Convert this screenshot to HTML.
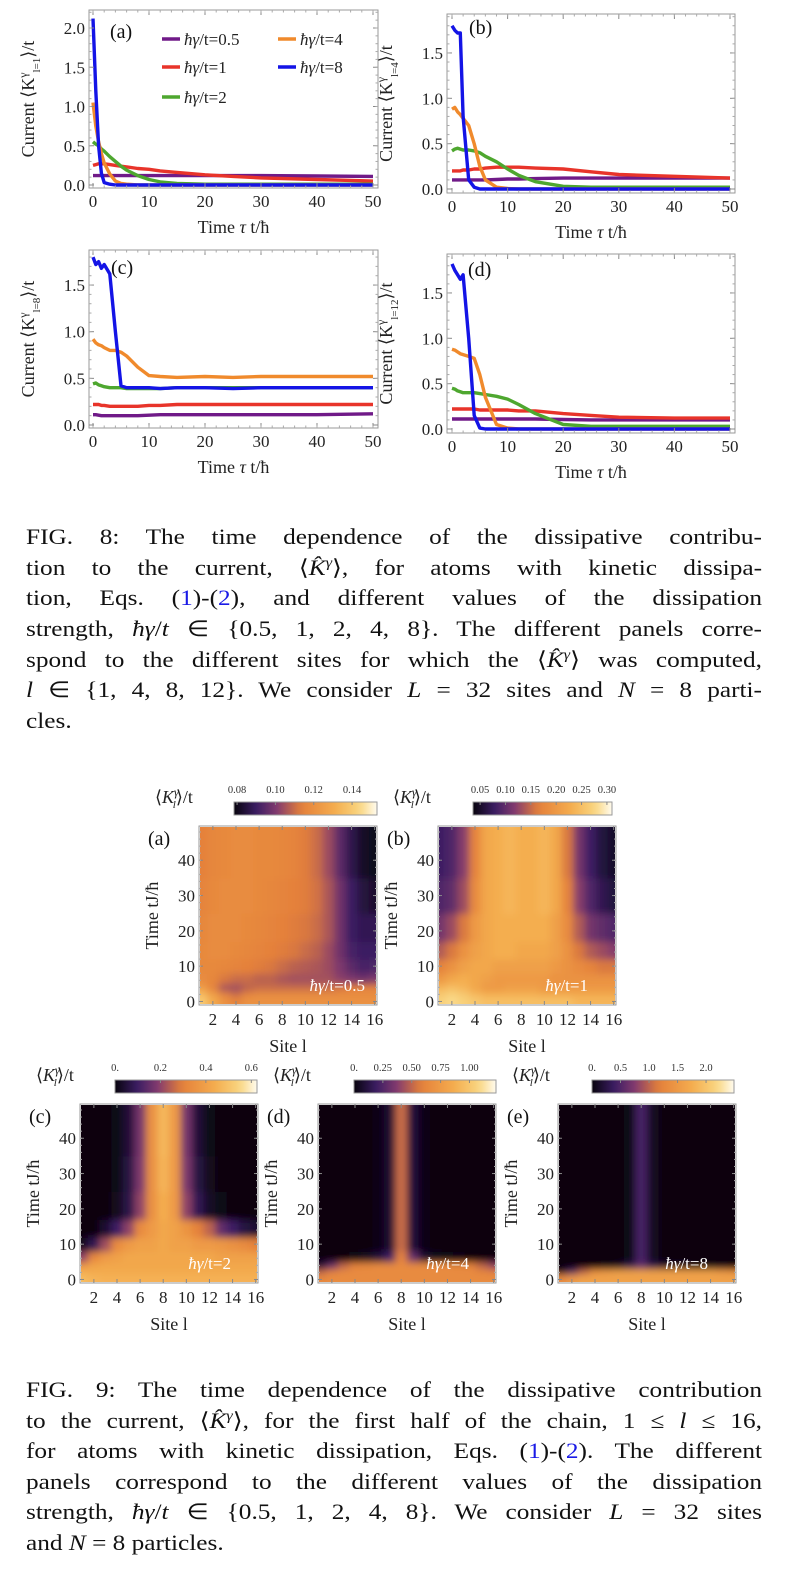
<!DOCTYPE html>
<html><head><meta charset="utf-8">
<style>
html,body{margin:0;padding:0;background:#fff;}
body{width:790px;height:1596px;position:relative;overflow:hidden;font-family:"Liberation Serif",serif;}
.cap{position:absolute;left:26px;width:640px;font-size:22px;line-height:26px;color:#111;text-align:justify;text-align-last:justify;white-space:nowrap;transform:scaleX(1.15);transform-origin:0 0;}
.cap.last{text-align-last:left;}
.cap i{font-style:italic;}
.cap sup{font-size:14px;line-height:0;vertical-align:baseline;position:relative;top:-0.6em;}
.lnk{color:#1a1ae6;}
svg text{font-family:"Liberation Serif",serif;}
</style></head>
<body>
<svg id="fig" width="790" height="1596" style="position:absolute;left:0;top:0">
<defs>
<filter id="blur" x="0" y="0" width="1" height="1" filterUnits="objectBoundingBox"><feGaussianBlur stdDeviation="3.8" edgeMode="duplicate"/></filter>
</defs>
</svg>

<div class="cap" style="top:524px">FIG. 8: The time dependence of the dissipative contribu-</div>
<div class="cap" style="top:555px">tion to the current, ⟨<i>K̂</i><sup><i>γ</i></sup>⟩, for atoms with kinetic dissipa-</div>
<div class="cap" style="top:585px">tion, Eqs. (<span class="lnk">1</span>)-(<span class="lnk">2</span>), and different values of the dissipation</div>
<div class="cap" style="top:616px">strength, <i>ħγ</i>/<i>t</i> ∈ {0.5, 1, 2, 4, 8}. The different panels corre-</div>
<div class="cap" style="top:647px">spond to the different sites for which the ⟨<i>K̂</i><sup><i>γ</i></sup>⟩ was computed,</div>
<div class="cap" style="top:677px"><i>l</i> ∈ {1, 4, 8, 12}. We consider <i>L</i> = 32 sites and <i>N</i> = 8 parti-</div>
<div class="cap last" style="top:708px">cles.</div>

<div class="cap" style="top:1377px">FIG. 9: The time dependence of the dissipative contribution</div>
<div class="cap" style="top:1408px">to the current, ⟨<i>K̂</i><sup><i>γ</i></sup>⟩, for the first half of the chain, 1 ≤ <i>l</i> ≤ 16,</div>
<div class="cap" style="top:1438px">for atoms with kinetic dissipation, Eqs. (<span class="lnk">1</span>)-(<span class="lnk">2</span>). The different</div>
<div class="cap" style="top:1469px">panels correspond to the different values of the dissipation</div>
<div class="cap" style="top:1499px">strength, <i>ħγ</i>/<i>t</i> ∈ {0.5, 1, 2, 4, 8}. We consider <i>L</i> = 32 sites</div>
<div class="cap last" style="top:1530px">and <i>N</i> = 8 particles.</div>

<script>
// ---------- FIG 8 data ----------
const times = [0,0.5,1,1.5,2,3,4,5,6,8,10,12,15,20,25,30,40,50];
const xTicks = [0,10,20,30,40,50];
const gammaLabels = ["ħγ/t=0.5","ħγ/t=1","ħγ/t=2","ħγ/t=4","ħγ/t=8"];
// panel (a) l=1
const a_g05 = [0.12,0.12,0.12,0.12,0.12,0.12,0.12,0.12,0.12,0.12,0.12,0.12,0.12,0.12,0.12,0.12,0.115,0.11];
const a_g1  = [0.25,0.26,0.27,0.27,0.27,0.26,0.25,0.24,0.23,0.21,0.20,0.18,0.16,0.13,0.11,0.09,0.07,0.05];
const a_g2  = [0.55,0.52,0.50,0.46,0.43,0.36,0.30,0.24,0.19,0.12,0.07,0.04,0.02,0.01,0.01,0.01,0.01,0.01];
const a_g4  = [1.05,0.75,0.55,0.40,0.28,0.14,0.05,0.02,0.01,0,0,0,0,0,0,0,0,0];
const a_g8  = [2.12,1.20,0.50,0.15,0.03,0.01,0,0,0,0,0,0,0,0,0,0,0,0];
// panel (b) l=4
const b_g05 = [0.10,0.10,0.10,0.10,0.10,0.10,0.10,0.10,0.10,0.105,0.11,0.11,0.115,0.12,0.12,0.12,0.12,0.12];
const b_g1  = [0.20,0.20,0.20,0.20,0.21,0.21,0.22,0.22,0.23,0.24,0.24,0.24,0.23,0.22,0.19,0.16,0.14,0.12];
const b_g2  = [0.42,0.44,0.45,0.44,0.43,0.43,0.42,0.40,0.36,0.30,0.22,0.15,0.08,0.03,0.02,0.02,0.02,0.02];
const b_g4  = [0.88,0.90,0.85,0.82,0.78,0.70,0.50,0.25,0.10,0.02,0.005,0,0,0,0,0,0,0];
const b_g8  = [1.80,1.75,1.72,1.72,0.80,0.10,0.02,0,0,0,0,0,0,0,0,0,0,0];
// panel (c) l=8
const c_g05 = [0.11,0.11,0.105,0.10,0.10,0.10,0.10,0.10,0.10,0.10,0.105,0.11,0.11,0.11,0.11,0.11,0.11,0.12];
const c_g1  = [0.22,0.22,0.22,0.21,0.21,0.20,0.20,0.20,0.20,0.20,0.21,0.21,0.22,0.22,0.22,0.22,0.22,0.22];
const c_g2  = [0.44,0.45,0.43,0.42,0.41,0.40,0.40,0.40,0.39,0.39,0.39,0.39,0.40,0.40,0.40,0.40,0.40,0.40];
const c_g4  = [0.92,0.88,0.86,0.85,0.83,0.80,0.80,0.78,0.74,0.62,0.53,0.52,0.51,0.52,0.51,0.52,0.52,0.52];
const c_g8  = [1.80,1.72,1.75,1.68,1.72,1.62,1.00,0.42,0.40,0.40,0.40,0.39,0.40,0.40,0.39,0.40,0.40,0.40];
// panel (d) l=12
const d_g05 = [0.11,0.11,0.11,0.11,0.11,0.11,0.11,0.11,0.11,0.11,0.11,0.11,0.11,0.105,0.10,0.10,0.10,0.10];
const d_g1  = [0.22,0.22,0.22,0.22,0.22,0.22,0.22,0.21,0.21,0.21,0.21,0.20,0.20,0.17,0.15,0.13,0.12,0.12];
const d_g2  = [0.45,0.44,0.42,0.41,0.40,0.40,0.40,0.39,0.38,0.36,0.33,0.27,0.17,0.05,0.03,0.03,0.03,0.03];
const d_g4  = [0.88,0.87,0.85,0.83,0.82,0.80,0.78,0.60,0.35,0.05,0.01,0,0,0,0,0,0,0];
const d_g8  = [1.82,1.75,1.70,1.65,1.70,1.00,0.15,0.01,0,0,0,0,0,0,0,0,0,0];

// ---------- FIG 9 data ----------
const sites = [1,2,3,4,5,6,7,8,9,10,11,12,13,14,15,16];
const siteTicks = [2,4,6,8,10,12,14,16];
const timeTicks = [0,10,20,30,40];
const timeEdges = [0,1.5,3,5,8,12,17,25,35,50];
const hmA = [
 [0.14,0.13,0.12,0.115,0.12,0.12,0.12,0.12,0.12,0.12,0.12,0.12,0.12,0.12,0.12,0.12],
 [0.135,0.125,0.115,0.11,0.115,0.118,0.118,0.118,0.118,0.118,0.118,0.118,0.118,0.118,0.118,0.118],
 [0.125,0.115,0.105,0.104,0.108,0.11,0.11,0.11,0.11,0.11,0.11,0.11,0.112,0.114,0.115,0.115],
 [0.118,0.116,0.112,0.11,0.11,0.108,0.108,0.106,0.105,0.105,0.105,0.105,0.102,0.10,0.098,0.10],
 [0.117,0.117,0.116,0.115,0.114,0.113,0.112,0.11,0.108,0.107,0.106,0.104,0.10,0.095,0.092,0.093],
 [0.117,0.118,0.118,0.117,0.116,0.115,0.114,0.113,0.112,0.11,0.108,0.104,0.098,0.092,0.09,0.09],
 [0.116,0.118,0.118,0.118,0.117,0.116,0.115,0.114,0.113,0.112,0.11,0.106,0.098,0.09,0.088,0.088],
 [0.115,0.117,0.118,0.118,0.118,0.117,0.116,0.115,0.114,0.113,0.111,0.106,0.098,0.09,0.085,0.083],
 [0.114,0.116,0.117,0.118,0.118,0.117,0.117,0.116,0.115,0.113,0.11,0.104,0.095,0.087,0.082,0.08]];
const hmB = [
 [0.27,0.28,0.27,0.26,0.25,0.25,0.25,0.25,0.25,0.25,0.25,0.25,0.24,0.24,0.24,0.24],
 [0.26,0.27,0.26,0.24,0.23,0.23,0.23,0.23,0.23,0.22,0.22,0.22,0.22,0.22,0.22,0.22],
 [0.24,0.25,0.24,0.22,0.2,0.2,0.21,0.21,0.21,0.2,0.2,0.2,0.2,0.2,0.2,0.2],
 [0.2,0.22,0.23,0.22,0.21,0.2,0.2,0.2,0.2,0.2,0.19,0.19,0.19,0.19,0.19,0.19],
 [0.17,0.19,0.21,0.22,0.22,0.21,0.21,0.21,0.21,0.21,0.2,0.19,0.18,0.17,0.16,0.16],
 [0.14,0.16,0.19,0.21,0.22,0.23,0.23,0.22,0.22,0.22,0.21,0.19,0.16,0.14,0.13,0.12],
 [0.11,0.13,0.16,0.2,0.22,0.23,0.23,0.23,0.23,0.23,0.21,0.18,0.14,0.11,0.1,0.09],
 [0.09,0.1,0.13,0.18,0.22,0.23,0.24,0.23,0.23,0.24,0.22,0.17,0.12,0.09,0.07,0.06],
 [0.08,0.09,0.12,0.17,0.22,0.23,0.24,0.23,0.23,0.24,0.22,0.16,0.11,0.08,0.06,0.05]];
const hmC = [
 [0.48,0.46,0.45,0.45,0.45,0.45,0.45,0.45,0.45,0.45,0.45,0.45,0.45,0.45,0.45,0.45],
 [0.44,0.43,0.43,0.43,0.43,0.43,0.43,0.43,0.43,0.43,0.43,0.43,0.43,0.43,0.43,0.43],
 [0.38,0.41,0.42,0.42,0.42,0.42,0.42,0.42,0.42,0.42,0.42,0.42,0.42,0.42,0.42,0.42],
 [0.2,0.32,0.38,0.4,0.42,0.42,0.42,0.42,0.42,0.42,0.42,0.42,0.4,0.4,0.4,0.4],
 [0.02,0.08,0.22,0.33,0.38,0.4,0.4,0.42,0.4,0.4,0.38,0.38,0.37,0.35,0.33,0.3],
 [0,0,0.04,0.1,0.2,0.33,0.38,0.42,0.4,0.36,0.3,0.25,0.15,0.1,0.06,0.04],
 [0,0,0,0.02,0.07,0.2,0.35,0.44,0.38,0.2,0.08,0.03,0.01,0,0,0],
 [0,0,0,0.01,0.06,0.18,0.35,0.46,0.38,0.18,0.06,0.02,0,0,0,0],
 [0,0,0,0.01,0.05,0.17,0.35,0.47,0.38,0.17,0.05,0.01,0,0,0,0]];
const hmD = [
 [0.62,0.65,0.65,0.65,0.65,0.65,0.65,0.65,0.65,0.65,0.65,0.65,0.65,0.65,0.65,0.65],
 [0.5,0.6,0.65,0.65,0.65,0.65,0.65,0.65,0.65,0.65,0.65,0.65,0.65,0.65,0.62,0.6],
 [0.1,0.3,0.5,0.6,0.62,0.65,0.65,0.65,0.65,0.65,0.65,0.65,0.62,0.6,0.5,0.4],
 [0,0,0,0.02,0.05,0.1,0.2,0.6,0.3,0.08,0.03,0.02,0.01,0,0,0],
 [0,0,0,0,0,0.01,0.08,0.52,0.1,0.01,0,0,0,0,0,0],
 [0,0,0,0,0,0.01,0.08,0.52,0.1,0.01,0,0,0,0,0,0],
 [0,0,0,0,0,0.01,0.08,0.52,0.1,0.01,0,0,0,0,0,0],
 [0,0,0,0,0,0.01,0.08,0.52,0.1,0.01,0,0,0,0,0,0],
 [0,0,0,0,0,0.01,0.08,0.52,0.1,0.01,0,0,0,0,0,0]];
const hmE = [
 [1.3,1.5,1.6,1.6,1.6,1.6,1.6,1.6,1.6,1.6,1.6,1.6,1.6,1.6,1.6,1.6],
 [0.1,0.5,1.0,1.4,1.5,1.6,1.6,1.6,1.6,1.6,1.6,1.6,1.6,1.6,1.5,1.4],
 [0,0,0,0,0.05,0.1,0.3,0.6,0.3,0.15,0.1,0.1,0.05,0.05,0.02,0],
 [0,0,0,0,0,0,0.05,0.45,0.1,0,0,0,0,0,0,0],
 [0,0,0,0,0,0,0.05,0.45,0.1,0,0,0,0,0,0,0],
 [0,0,0,0,0,0,0.05,0.45,0.1,0,0,0,0,0,0,0],
 [0,0,0,0,0,0,0.05,0.45,0.1,0,0,0,0,0,0,0],
 [0,0,0,0,0,0,0.05,0.45,0.1,0,0,0,0,0,0,0],
 [0,0,0,0,0,0,0.05,0.45,0.1,0,0,0,0,0,0,0]];
const cbTicksA = [0.08,0.10,0.12,0.14];
const cbTicksB = [0.05,0.10,0.15,0.20,0.25,0.30];
const cbTicksC = [0,0.2,0.4,0.6];
const cbTicksD = [0,0.25,0.50,0.75,1.00];
const cbTicksE = [0,0.5,1.0,1.5,2.0];

const NS = "http://www.w3.org/2000/svg";
const svg = document.getElementById("fig");
function mk(tag, attrs, parent){
  const e = document.createElementNS(NS, tag);
  for (const k in attrs) e.setAttribute(k, attrs[k]);
  (parent||svg).appendChild(e);
  return e;
}
const seriesColors = ["#701a88","#e8342a","#4ea72f","#f08a2c","#1414e6"];

function yTitle(g, x, y, main, sub, after){
  const t = mk("text", {x:x, y:y, "font-size":18, "text-anchor":"middle", transform:`rotate(-90 ${x} ${y})`, fill:"#222"}, g);
  
  
  t.appendChild(document.createTextNode(main));
  const s1 = mk("tspan", {"baseline-shift":"super","font-size":12}, t); s1.textContent="γ";
  const s2 = mk("tspan", {"baseline-shift":"sub","font-size":11}, t); s2.textContent=sub;
  const s3 = mk("tspan", {}, t); s3.textContent=after;
}

function lineChart(cfg, seriesList, yTickVals){
  const g = mk("g", {});
  
  
  const X = v => cfg.x0 + (cfg.x50 - cfg.x0) * v / 50;
  const Y = v => cfg.y0 - cfg.ppu * v;
  const clipId = cfg.name + "-clip";
  const cp = mk("clipPath", {id:clipId}, g);
  mk("rect", {x:cfg.l, y:cfg.t, width:cfg.r-cfg.l, height:cfg.b-cfg.t}, cp);
  seriesList.forEach((vals, si) => {
    const pts = times.map((tv, i) => X(tv).toFixed(1) + "," + Y(vals[i]).toFixed(1)).join(" ");
    const pl = mk("polyline", {points:pts, fill:"none", stroke:seriesColors[si], "stroke-width":3.4, "stroke-linejoin":"round", "clip-path":`url(#${clipId})`}, g);
    
    
  });
  const fr = mk("rect", {x:cfg.l, y:cfg.t, width:cfg.r-cfg.l, height:cfg.b-cfg.t, fill:"none", stroke:"#999", "stroke-width":1}, g);
  
  
  xTicks.forEach(v => {
    mk("line", {x1:X(v), x2:X(v), y1:cfg.b, y2:cfg.b-5, stroke:"#888"}, g);
    mk("line", {x1:X(v), x2:X(v), y1:cfg.t, y2:cfg.t+5, stroke:"#888"}, g);
    const tl = mk("text", {x:X(v), y:cfg.b+19, "font-size":17, "text-anchor":"middle", fill:"#222"}, g);
    
    
    tl.textContent = v;
  });
  for (let v = 0; v <= 50; v += 2) {
    mk("line", {x1:X(v), x2:X(v), y1:cfg.b, y2:cfg.b-2.5, stroke:"#aaa"}, g);
    mk("line", {x1:X(v), x2:X(v), y1:cfg.t, y2:cfg.t+2.5, stroke:"#aaa"}, g);
  }
  yTickVals.forEach(v => {
    mk("line", {x1:cfg.l, x2:cfg.l+5, y1:Y(v), y2:Y(v), stroke:"#888"}, g);
    mk("line", {x1:cfg.r, x2:cfg.r-5, y1:Y(v), y2:Y(v), stroke:"#888"}, g);
    const tl = mk("text", {x:cfg.l-4, y:Y(v)+6, "font-size":17, "text-anchor":"end", fill:"#222"}, g);
    
    
    tl.textContent = v.toFixed(1);
  });
  for (let v = 0.1; v < (cfg.y0-cfg.t)/cfg.ppu; v += 0.1) {
    mk("line", {x1:cfg.l, x2:cfg.l+2.5, y1:Y(v), y2:Y(v), stroke:"#aaa"}, g);
    mk("line", {x1:cfg.r, x2:cfg.r-2.5, y1:Y(v), y2:Y(v), stroke:"#aaa"}, g);
  }
  const xt = mk("text", {x:(cfg.l+cfg.r)/2, y:cfg.b+45, "font-size":18, "text-anchor":"middle", fill:"#222"}, g);
  
  
  xt.innerHTML = 'Time <tspan font-style="italic">τ</tspan> t/ħ';
  yTitle(g, cfg.l-55, (cfg.t+cfg.b)/2, "Current ⟨K", cfg.sub, "⟩/t");
  const pl = mk("text", {x:cfg.lx, y:cfg.ly, "font-size":20, fill:"#111"}, g);
  
  
  pl.textContent = cfg.label;
  return g;
}

lineChart({name:"chart-a-site-1", l:89, r:378, t:10, b:188, x0:93, x50:373, y0:185, ppu:78.5, sub:"l=1", label:"(a)", lx:110, ly:38},
  [a_g05,a_g1,a_g2,a_g4,a_g8], [0,0.5,1,1.5,2]);
lineChart({name:"chart-b-site-4", l:447, r:735, t:14, b:193, x0:452, x50:730, y0:189, ppu:90.7, sub:"l=4", label:"(b)", lx:469, ly:34},
  [b_g05,b_g1,b_g2,b_g4,b_g8], [0,0.5,1,1.5]);
lineChart({name:"chart-c-site-8", l:89, r:378, t:250, b:428, x0:93, x50:373, y0:425, ppu:93.3, sub:"l=8", label:"(c)", lx:111, ly:274},
  [c_g05,c_g1,c_g2,c_g4,c_g8], [0,0.5,1,1.5]);
lineChart({name:"chart-d-site-12", l:447, r:735, t:254, b:433, x0:452, x50:730, y0:429, ppu:90.7, sub:"l=12", label:"(d)", lx:468, ly:276},
  [d_g05,d_g1,d_g2,d_g4,d_g8], [0,0.5,1,1.5]);

const legPos = [[162,39],[162,67],[162,97],[278,39],[278,67]];
const lg = mk("g", {});


gammaLabels.forEach((lab, i) => {
  const [lx, ly] = legPos[i];
  const eg = mk("g", {}, lg);
  
  
  mk("line", {x1:lx, x2:lx+18, y1:ly, y2:ly, stroke:seriesColors[i], "stroke-width":3.5}, eg);
  const t = mk("text", {x:lx+22, y:ly+6, "font-size":17, fill:"#222"}, eg);
  t.innerHTML = '<tspan font-style="italic">ħγ</tspan>' + lab.slice(2);
});

// ---------- heatmaps ----------
const cmapStops = [[0,[8,4,14]],[0.16,[60,30,100]],[0.3,[130,58,110]],[0.47,[228,128,58]],[0.7,[244,172,78]],[0.88,[249,214,128]],[1,[255,251,239]]];
function cmap(f){
  f = Math.max(0, Math.min(1, f));
  for (let i = 1; i < cmapStops.length; i++) {
    if (f <= cmapStops[i][0]) {
      const [a, ca] = cmapStops[i-1], [b, cb] = cmapStops[i];
      const u = (f - a) / (b - a);
      return "rgb(" + ca.map((c, k) => Math.round(c + (cb[k]-c)*u)).join(",") + ")";
    }
  }
  return "rgb(255,251,239)";
}
let gradCount = 0;
function heatmap(cfg, grid, cbTicks){
  const g = mk("g", {});
  
  
  const smin = 0.8, smax = 16.2, tmin = -1, tmax = 49.7;
  const X = s => cfg.l + (s - smin) / (smax - smin) * (cfg.r - cfg.l);
  const Y = t => cfg.b - (t - tmin) / (tmax - tmin) * (cfg.b - cfg.t);
  const F = v => (v - cfg.vmin) / (cfg.vmax - cfg.vmin);
  const clipId = cfg.name + "-clip";
  const cp = mk("clipPath", {id:clipId}, g);
  mk("rect", {x:cfg.l+1, y:cfg.t+1, width:cfg.r-cfg.l-2, height:cfg.b-cfg.t-2}, cp);
  const cg = mk("g", {"clip-path":`url(#${clipId})`}, g);
  const bg = mk("g", {filter:"url(#blur)"}, cg);
  grid.forEach((row, ri) => {
    const t0 = ri === 0 ? tmin - 2 : timeEdges[ri];
    const t1 = ri === grid.length - 1 ? tmax + 2 : timeEdges[ri+1];
    row.forEach((v, ci) => {
      const s = sites[ci];
      const x0 = X(ci === 0 ? smin - 1 : s - 0.5), x1 = X(ci === row.length - 1 ? smax + 1 : s + 0.5);
      const c = mk("rect", {x:x0.toFixed(2), y:Y(t1).toFixed(2), width:(x1-x0+0.6).toFixed(2), height:(Y(t0)-Y(t1)+0.6).toFixed(2), fill:cmap(F(v))}, bg);
      
      
    });
  });
  const fr = mk("rect", {x:cfg.l, y:cfg.t, width:cfg.r-cfg.l, height:cfg.b-cfg.t, fill:"none", stroke:"#999"}, g);
  
  
  siteTicks.forEach(s => {
    mk("line", {x1:X(s), x2:X(s), y1:cfg.b, y2:cfg.b-4, stroke:"#888"}, g);
    mk("line", {x1:X(s), x2:X(s), y1:cfg.t, y2:cfg.t+4, stroke:"#888"}, g);
    const tl = mk("text", {x:X(s), y:cfg.b+20, "font-size":17, "text-anchor":"middle", fill:"#222"}, g);
    
    
    tl.textContent = s;
  });
  timeTicks.forEach(t => {
    mk("line", {x1:cfg.l, x2:cfg.l+4, y1:Y(t), y2:Y(t), stroke:"#888"}, g);
    mk("line", {x1:cfg.r, x2:cfg.r-4, y1:Y(t), y2:Y(t), stroke:"#888"}, g);
    const tl = mk("text", {x:cfg.l-4, y:Y(t)+6, "font-size":17, "text-anchor":"end", fill:"#222"}, g);
    
    
    tl.textContent = t;
  });
  for (let t = 2; t < 50; t += 2) {
    mk("line", {x1:cfg.l, x2:cfg.l+2, y1:Y(t), y2:Y(t), stroke:"#aaa"}, g);
    mk("line", {x1:cfg.r, x2:cfg.r-2, y1:Y(t), y2:Y(t), stroke:"#aaa"}, g);
  }
  const xt = mk("text", {x:(cfg.l+cfg.r)/2, y:cfg.b+47, "font-size":18, "text-anchor":"middle", fill:"#222"}, g);
  
  
  xt.textContent = "Site l";
  const yx = cfg.l - 41, yy = (cfg.t + cfg.b) / 2;
  const yt = mk("text", {x:yx, y:yy, "font-size":18, "text-anchor":"middle", transform:`rotate(-90 ${yx} ${yy})`, fill:"#222"}, g);
  
  
  yt.textContent = "Time tJ/ħ";
  const pl = mk("text", {x:cfg.l-51, y:cfg.t+19, "font-size":20, fill:"#111"}, g);
  
  
  pl.textContent = cfg.label;
  const gl = mk("text", {x:cfg.gx, y:cfg.b-14, "font-size":17, fill:"#fff", "text-anchor":"end"}, g);
  
  
  gl.innerHTML = '<tspan font-style="italic">ħγ</tspan>/t=' + cfg.gamma;
  const gid = "cbgrad" + (gradCount++);
  const lgd = mk("linearGradient", {id:gid, x1:0, x2:1, y1:0, y2:0}, g);
  for (let i = 0; i <= 20; i++) mk("stop", {offset:i/20, "stop-color":cmap(i/20)}, lgd);
  const cb = mk("rect", {x:cfg.cbl, y:cfg.t-24, width:cfg.cbr-cfg.cbl, height:13, fill:`url(#${gid})`, stroke:"#999"}, g);
  
  
  const CX = v => cfg.cbl + F(v) * (cfg.cbr - cfg.cbl);
  cbTicks.forEach(v => {
    const tl = mk("text", {x:CX(v), y:cfg.t-33, "font-size":10.5, "text-anchor":"middle", fill:"#333"}, g);
    
    
    tl.textContent = v === 0 ? "0." : v.toFixed(cfg.dec);
    mk("line", {x1:CX(v), x2:CX(v), y1:cfg.t-24, y2:cfg.t-21, stroke:"#888"}, g);
  });
  const cl = mk("text", {x:cfg.cbLabelX, y:cfg.t-23, "font-size":18, fill:"#222"}, g);
  
  
  cl.innerHTML = '⟨<tspan font-style="italic">K</tspan><tspan baseline-shift="super" font-size="12" font-style="italic">γ</tspan><tspan font-size="11" font-style="italic" dx="-6" dy="5">l</tspan><tspan dy="-5">⟩/t</tspan>';
}

heatmap({name:"heatmap-a", l:199, r:377, t:826, b:1005, vmin:0.0784, vmax:0.153, cbl:234, cbr:377, cbLabelX:155, label:"(a)", gamma:"0.5", gx:365, dec:2}, hmA, cbTicksA);
heatmap({name:"heatmap-b", l:438, r:616, t:826, b:1005, vmin:0.036, vmax:0.31, cbl:473, cbr:612, cbLabelX:393, label:"(b)", gamma:"1", gx:588, dec:2}, hmB, cbTicksB);
heatmap({name:"heatmap-c", l:80, r:258, t:1104, b:1283, vmin:0, vmax:0.625, cbl:115, cbr:257, cbLabelX:36, label:"(c)", gamma:"2", gx:231, dec:1}, hmC, cbTicksC);
heatmap({name:"heatmap-d", l:318, r:496, t:1104, b:1283, vmin:0, vmax:1.23, cbl:354, cbr:496, cbLabelX:273, label:"(d)", gamma:"4", gx:469, dec:2}, hmD, cbTicksD);
heatmap({name:"heatmap-e", l:558, r:736, t:1104, b:1283, vmin:0, vmax:2.49, cbl:592, cbr:734, cbLabelX:512, label:"(e)", gamma:"8", gx:708, dec:1}, hmE, cbTicksE);
</script>
</body></html>
